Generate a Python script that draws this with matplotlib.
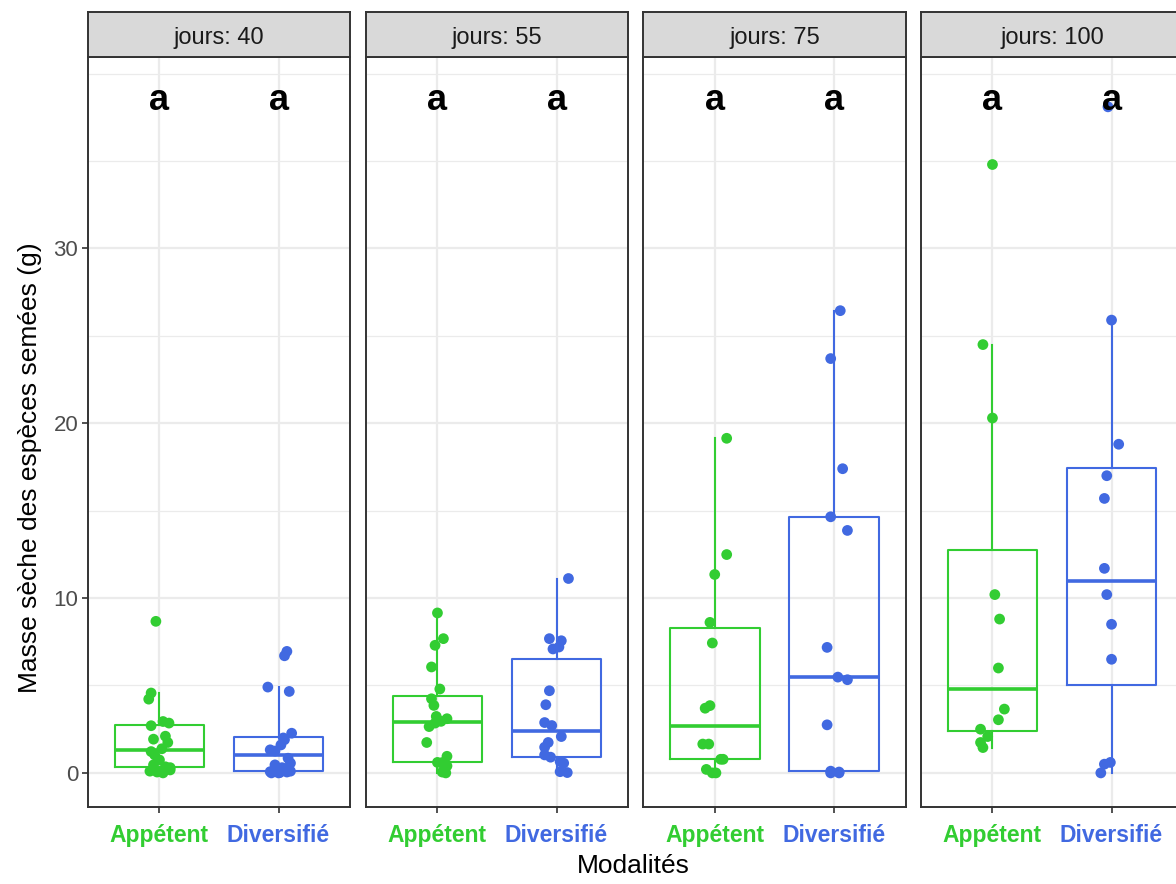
import matplotlib
matplotlib.use("Agg")
import matplotlib.pyplot as plt
import numpy as np

plt.rcParams['font.family'] = ['Liberation Sans', 'DejaVu Sans']

# ---------------- data ----------------
days = [40, 55, 75, 100]
modalities = ["Appétent", "Diversifié"]
mod_colors = ["#32CD32", "#4169E1"]
letters = ["a", "a"]
letter_y = 38.45

app_40 = [8.67, 4.57, 4.22, 2.94, 2.85, 2.70, 2.10, 1.93, 1.74, 1.38,
          1.22, 1.03, 0.74, 0.46, 0.35, 0.30, 0.17, 0.10, 0.05, 0.00]
app_40_jit = [-0.03, -0.07, -0.09, 0.03, 0.08, -0.07, 0.05, -0.05, 0.07, 0.02,
              -0.07, -0.04, 0.00, -0.05, 0.05, 0.09, 0.09, -0.08, -0.02, 0.03]
div_40 = [6.95, 6.70, 4.91, 4.66, 2.27, 2.00, 1.90, 1.60, 1.32, 1.25,
          0.84, 0.56, 0.46, 0.30, 0.10, 0.07, 0.05, 0.02, 0.00, 0.00]
div_40_jit = [0.07, 0.05, -0.09, 0.09, 0.11, 0.04, 0.05, 0.02, -0.07, -0.03,
              0.08, 0.10, -0.03, 0.03, 0.10, -0.07, 0.07, 0.01, 0.00, -0.06]

app_55 = [9.15, 7.68, 7.30, 6.06, 4.80, 4.24, 3.86, 3.23, 3.10, 2.95,
          2.85, 2.65, 1.74, 0.95, 0.60, 0.59, 0.40, 0.27, 0.05, 0.00]
app_55_jit = [0.00, 0.05, -0.02, -0.05, 0.02, -0.05, -0.03, -0.01, 0.08, 0.03,
              -0.02, -0.07, -0.09, 0.08, 0.00, 0.04, 0.08, 0.06, 0.04, 0.07]
div_55 = [11.12, 7.68, 7.56, 7.20, 7.09, 4.70, 3.90, 2.88, 2.71, 2.08,
          1.74, 1.47, 1.03, 0.90, 0.65, 0.56, 0.07, 0.02]
div_55_jit = [0.10, -0.06, 0.04, 0.02, -0.03, -0.06, -0.09, -0.10, -0.04, 0.04,
              -0.07, -0.10, -0.10, -0.05, 0.03, 0.06, 0.03, 0.09]

app_75 = [19.14, 12.49, 11.35, 8.61, 7.43, 3.85, 3.70, 1.65, 1.65, 0.78,
          0.78, 0.20, 0.00, 0.00]
app_75_jit = [0.10, 0.10, 0.00, -0.04, -0.02, -0.04, -0.08, -0.10, -0.05, 0.07,
              0.05, -0.07, 0.01, -0.02]
div_75 = [26.44, 23.70, 17.40, 14.65, 13.87, 7.18, 5.48, 5.33, 2.75, 0.10,
          0.05, 0.00, 0.00]
div_75_jit = [0.05, -0.03, 0.07, -0.03, 0.11, -0.06, 0.03, 0.11, -0.06, -0.03,
              0.04, 0.04, -0.03]

app_100 = [34.8, 24.5, 20.3, 10.2, 8.8, 6.0, 3.65, 3.04, 2.50, 2.08, 1.74, 1.45]
app_100_jit = [0.00, -0.08, 0.00, 0.02, 0.06, 0.05, 0.10, 0.05, -0.10, -0.04, -0.10, -0.08]
div_100 = [38.1, 25.9, 18.8, 17.0, 15.7, 11.7, 10.2, 8.5, 6.5, 0.6, 0.5, 0.0]
div_100_jit = [-0.03, 0.00, 0.06, -0.04, -0.06, -0.06, -0.04, 0.00, 0.00, -0.01, -0.06, -0.09]

values = {40: (app_40, div_40), 55: (app_55, div_55),
          75: (app_75, div_75), 100: (app_100, div_100)}
jitters = {40: (app_40_jit, div_40_jit), 55: (app_55_jit, div_55_jit),
           75: (app_75_jit, div_75_jit), 100: (app_100_jit, div_100_jit)}

y_major = [0, 10, 20, 30]
y_minor = [5, 15, 25, 35, 40]

# ---------------- layout ----------------
W, H = 1176, 884
fig = plt.figure(figsize=(W / 100, H / 100), dpi=100)
panel_x = [(88, 350), (366, 628), (643, 906), (921, 1183)]
p_top, p_bot = 57, 807
s_top = 12

border_col = "#333333"
grid_col = "#EBEBEB"

for i, d in enumerate(days):
    L, R = panel_x[i]
    ax = fig.add_axes([L / W, (H - p_bot) / H, (R - L) / W, (p_bot - p_top) / H])
    ax.set_xlim(0.4, 2.6)
    ax.set_ylim(-1.95, 40.95)
    for yv in y_minor:
        ax.axhline(yv, color=grid_col, lw=0.9, zorder=0)
    for yv in y_major:
        ax.axhline(yv, color=grid_col, lw=1.6, zorder=0)
    for xv in [1, 2]:
        ax.axvline(xv, color=grid_col, lw=1.6, zorder=0)

    for k in range(2):
        col = mod_colors[k]
        vals = values[d][k]
        jit = jitters[d][k]
        ax.boxplot([vals], positions=[k + 1], widths=0.75, whis=1.5,
                   showfliers=False, showcaps=False, patch_artist=False,
                   boxprops=dict(color=col, lw=1.5),
                   whiskerprops=dict(color=col, lw=1.5),
                   medianprops=dict(color=col, lw=2.6, solid_capstyle='butt'),
                   manage_ticks=False, zorder=2)
        ax.scatter(np.array(jit) + k + 1, vals, s=60, color=col,
                   edgecolors='none', zorder=3)
        ax.text(k + 1, letter_y, letters[k], ha='center', va='center',
                fontsize=26, fontweight='bold', color='black', zorder=4)

    for sp in ax.spines.values():
        sp.set_color(border_col)
        sp.set_linewidth(1.4)
    ax.set_xticks([1, 2])
    ax.set_xticklabels(modalities, fontsize=16.5, fontweight='bold')
    for lab, c in zip(ax.get_xticklabels(), mod_colors):
        lab.set_color(c)
    ax.tick_params(axis='x', length=4, width=1.2, color=border_col, pad=8)
    ax.set_yticks(y_major)
    if i == 0:
        ax.set_yticklabels([str(v) for v in y_major], fontsize=16, color="#4D4D4D")
        ax.tick_params(axis='y', length=4, width=1.2, color=border_col, pad=3)
    else:
        ax.tick_params(axis='y', left=False, labelleft=False)

    # strip
    sax = fig.add_axes([L / W, (H - p_top) / H, (R - L) / W, (p_top - s_top) / H])
    sax.set_facecolor("#D9D9D9")
    sax.set_xticks([])
    sax.set_yticks([])
    for sp in sax.spines.values():
        sp.set_color(border_col)
        sp.set_linewidth(1.4)
    sax.text(0.5, 0.43, f"jours: {d}", transform=sax.transAxes,
             ha='center', va='center', fontsize=17, color="#1A1A1A")

fig.text(633 / W, 1 - 866 / H, "Modalités", ha='center', va='center',
         fontsize=19, color='black')
fig.text(30 / W, 1 - 468 / H, "Masse sèche des espèces semées (g)", ha='center',
         va='center', rotation=90, fontsize=19, color='black')

fig.savefig("out.png", dpi=100, facecolor='white')
